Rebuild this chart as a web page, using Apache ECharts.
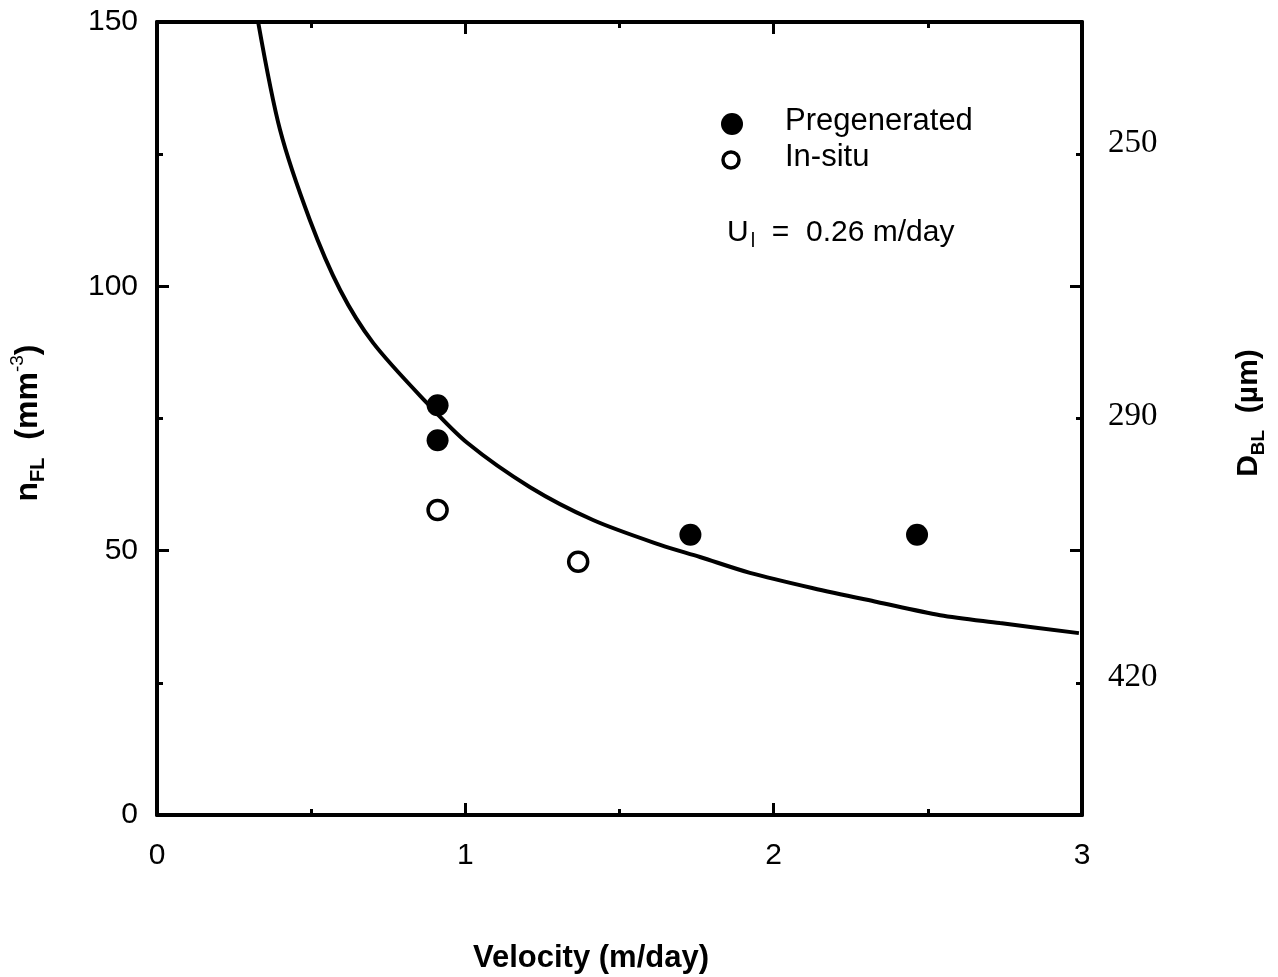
<!DOCTYPE html>
<html><head><meta charset="utf-8">
<script src="https://cdn.jsdelivr.net/npm/echarts@6/dist/echarts.min.js"></script>
<style>html,body{margin:0;padding:0;background:#fff}#c{width:1278px;height:977px}</style>
</head><body><div id="c"></div>
<script>
// Model curve
const curveX = [0.328, 0.399, 0.496, 0.594, 0.701, 0.876, 1.006, 1.21, 1.414, 1.632, 1.761, 1.923, 2.128, 2.335, 2.54, 2.734, 2.99];
const curveY = [150, 129.6, 112.5, 99.3, 89.3, 77.9, 70.4, 62.0, 55.8, 51.1, 48.8, 45.8, 42.9, 40.3, 37.8, 36.3, 34.4];
// Measured points
const pregenX = [0.91, 0.91, 1.73, 2.465];
const pregenY = [77.5, 70.9, 53.0, 53.0];
const insituX = [0.91, 1.366];
const insituY = [57.7, 47.9];
// Right axis (D_BL) labels and their positions on the n_FL scale
const rightLabels = ['250', '290', '420'];
const rightLabelPos = [127, 75.5, 26];

const SANS = '"Liberation Sans", Arial, Helvetica, sans-serif';
const SERIF = '"Liberation Serif", "Times New Roman", serif';
const zip = (a, b) => a.map((v, i) => [v, b[i]]);

const blk = '#000';
const axisLine = { show: true, onZero: false, lineStyle: { color: blk, width: 4 } };
const axisTick = { show: true, inside: true, length: 12, lineStyle: { color: blk, width: 3 } };
const minorTick = { show: true, splitNumber: 2, length: 6, lineStyle: { color: blk, width: 3 } };

const chart = echarts.init(document.getElementById('c'), null, { renderer: 'canvas' });
chart.setOption({
  backgroundColor: '#fff',
  animation: false,
  grid: { left: 157, top: 22, right: 196, bottom: 162, containLabel: false },
  xAxis: [
    { type: 'value', position: 'bottom', min: 0, max: 3, interval: 1,
      axisLine, axisTick, minorTick, splitLine: { show: false }, minorSplitLine: { show: false },
      axisLabel: { margin: 26, fontSize: 30, color: blk, fontFamily: SANS } },
    { type: 'value', position: 'top', min: 0, max: 3, interval: 1,
      axisLine, axisTick, minorTick, splitLine: { show: false },
      axisLabel: { show: false } }
  ],
  yAxis: [
    { type: 'value', position: 'left', min: 0, max: 150, interval: 50,
      axisLine, axisTick, minorTick, splitLine: { show: false },
      axisLabel: { margin: 19, fontSize: 30, color: blk, fontFamily: SANS } },
    { type: 'value', position: 'right', min: 0, max: 150, interval: 50,
      axisLine, axisTick, minorTick, splitLine: { show: false },
      axisLabel: { margin: 26, fontSize: 33, color: blk, fontFamily: SERIF,
        customValues: rightLabelPos,
        formatter: v => { const i = rightLabelPos.indexOf(v); return i >= 0 ? rightLabels[i] : ''; } } }
  ],
  series: [
    { type: 'line', data: zip(curveX, curveY), smooth: 0.3, symbol: 'none', clip: true,
      lineStyle: { color: blk, width: 4 }, z: 2 },
    { type: 'scatter', name: 'Pregenerated', data: zip(pregenX, pregenY), symbol: 'circle', symbolSize: 22,
      itemStyle: { color: blk, opacity: 1 }, z: 3 },
    { type: 'scatter', name: 'In-situ', data: zip(insituX, insituY), symbol: 'circle', symbolSize: 19,
      itemStyle: { color: '#fff', borderColor: blk, borderWidth: 3.5, opacity: 1 }, z: 3 }
  ],
  graphic: [
    { type: 'circle', shape: { cx: 732, cy: 124, r: 11 }, style: { fill: blk } },
    { type: 'circle', shape: { cx: 731, cy: 160, r: 8 }, style: { fill: '#fff', stroke: blk, lineWidth: 3.5 } },
    { type: 'text', x: 785, y: 121, style: { text: 'Pregenerated', font: '31px ' + SANS, fill: blk, textAlign: 'left', textVerticalAlign: 'middle' } },
    { type: 'text', x: 785, y: 157, style: { text: 'In-situ', font: '31px ' + SANS, fill: blk, textAlign: 'left', textVerticalAlign: 'middle' } },
    { type: 'text', x: 727, y: 233, style: {
        text: '{a|U}{s|l}{a|  =  0.26 m/day}',
        textAlign: 'left', textVerticalAlign: 'middle', fill: blk,
        rich: { a: { fontSize: 30, fontFamily: SANS, lineHeight: 36, verticalAlign: 'middle' },
                s: { fontSize: 20, fontFamily: SANS, lineHeight: 36, verticalAlign: 'bottom', padding: [0, 0, 0, 2] } } } },
    { type: 'text', x: 591, y: 958, style: { text: 'Velocity (m/day)', font: 'bold 31px ' + SANS, fill: blk, textAlign: 'center', textVerticalAlign: 'middle' } },
    { type: 'text', x: 28, y: 423, rotation: Math.PI / 2, style: {
        text: '{a|n}{s|FL}{a|  (mm}{p|-3}{a|)}',
        textAlign: 'center', textVerticalAlign: 'middle', fill: blk,
        rich: { a: { fontSize: 32, fontWeight: 'bold', fontFamily: SANS, lineHeight: 40, verticalAlign: 'middle' },
                s: { fontSize: 20, fontWeight: 'bold', fontFamily: SANS, lineHeight: 40, verticalAlign: 'bottom' },
                p: { fontSize: 19, fontWeight: 'normal', fontFamily: SANS, lineHeight: 40, verticalAlign: 'top' } } } },
    { type: 'text', x: 1249, y: 413, rotation: Math.PI / 2, style: {
        text: '{a|D}{s|BL}{a|  (\u00b5m)}',
        textAlign: 'center', textVerticalAlign: 'middle', fill: blk,
        rich: { a: { fontSize: 30, fontWeight: 'bold', fontFamily: SANS, lineHeight: 38, verticalAlign: 'middle' },
                s: { fontSize: 19, fontWeight: 'bold', fontFamily: SANS, lineHeight: 38, verticalAlign: 'bottom' } } } }
  ]
});
</script>
</body></html>
